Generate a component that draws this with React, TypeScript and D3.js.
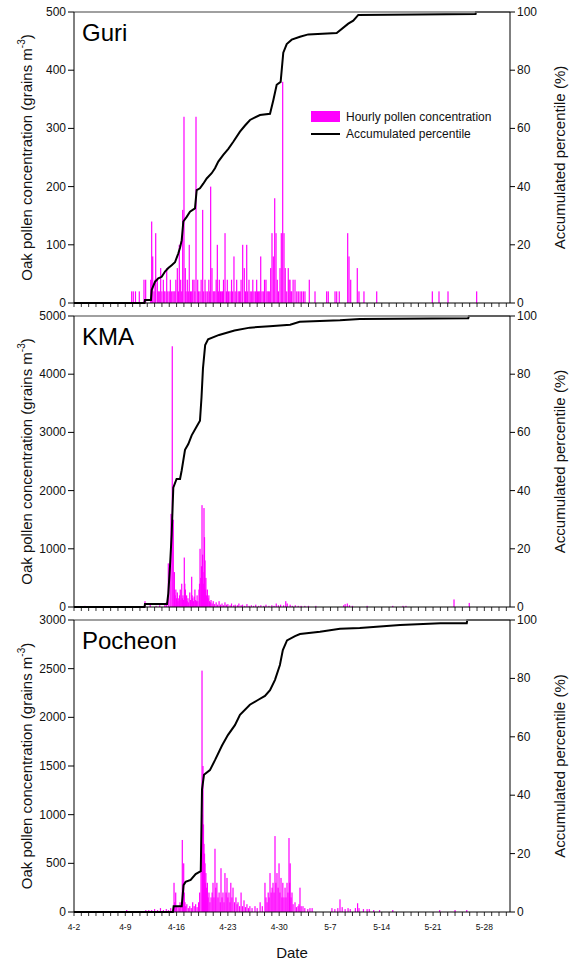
import React from 'react';
import * as d3 from 'd3';

// ---------- DATA (day offset from Apr 2 00:00, value) ----------
const xTickDays = [0, 7, 14, 21, 28, 35, 42, 49, 56];
const xTickLabels = ['4-2', '4-9', '4-16', '4-23', '4-30', '5-7', '5-14', '5-21', '5-28'];
const xDomainEnd = 59.5;

const guriTicks = [0, 100, 200, 300, 400, 500];
const kmaTicks = [0, 1000, 2000, 3000, 4000, 5000];
const pocheonTicks = [0, 500, 1000, 1500, 2000, 2500, 3000];
const pctTicks = [0, 20, 40, 60, 80, 100];

const guriBars: [number, number][] = [
  [7.87,20],[8.09,20],[8.39,20],[8.91,20],[9.55,40],[9.78,40],[10.47,40],[10.60,140],[10.74,80],[10.92,20],[11.05,40],[11.15,120],[11.37,40],[11.50,20],[11.64,20],[11.83,60],[12.0,20],[12.19,40],[12.3,20],[12.42,20],[12.65,60],[12.8,20],[13.00,20],[13.15,40],[13.33,20],[13.5,20],[13.65,20],[13.78,20],[13.9,40],[14.10,60],[14.25,20],[14.37,100],[14.56,40],[14.7,20],[14.83,160],[15.01,320],[15.19,60],[15.3,20],[15.46,40],[15.6,20],[15.73,100],[15.9,20],[16.06,20],[16.2,40],[16.38,40],[16.5,20],[16.65,320],[16.88,40],[17.0,20],[17.19,20],[17.35,40],[17.56,160],[17.7,20],[17.88,40],[18.0,20],[18.19,20],[18.4,40],[18.52,20],[18.65,200],[18.83,60],[19.0,20],[19.12,20],[19.24,20],[19.4,40],[19.56,100],[19.7,20],[19.83,40],[20.0,20],[20.16,20],[20.28,20],[20.4,40],[20.61,120],[20.8,20],[20.92,40],[21.1,20],[21.29,20],[21.5,40],[21.65,20],[21.83,80],[22.0,20],[22.20,40],[22.4,20],[22.56,20],[22.68,20],[22.8,40],[23.02,100],[23.24,60],[23.4,20],[23.57,100],[23.7,20],[23.88,40],[24.05,20],[24.25,20],[24.4,40],[24.56,20],[24.75,20],[24.93,40],[25.05,20],[25.2,20],[25.35,20],[25.48,80],[25.65,20],[25.83,20],[26.0,40],[26.20,40],[26.35,20],[26.51,20],[26.65,20],[26.84,60],[27.02,120],[27.20,80],[27.39,180],[27.57,120],[27.74,40],[27.9,20],[28.11,60],[28.29,120],[28.48,380],[28.66,120],[28.83,60],[29.03,20],[29.24,60],[29.35,40],[29.48,40],[29.6,20],[29.71,20],[29.9,40],[30.16,40],[30.4,20],[30.61,20],[30.85,20],[31.07,20],[31.3,20],[31.52,20],[32.11,40],[32.89,20],[34.48,20],[34.70,20],[35.62,20],[35.85,20],[36.20,20],[37.35,120],[37.53,80],[37.76,40],[38.66,60],[38.89,20],[39.57,20],[41.31,20],[48.90,20],[49.81,20],[51.04,20],[54.95,20]
];
const guriCum: [number, number][] = [
  [0,0],[9.62,0],[9.69,1],[10.5,1],[10.6,4.5],[11.05,7.3],[11.5,8.5],[11.97,9],[12.42,10.8],[12.87,12],[13.33,13],[13.78,14],[14.23,17],[14.47,19],[14.7,21.6],[14.92,28],[15.38,29.6],[15.83,31.4],[16.51,32.5],[16.74,38.8],[17.19,39.4],[17.64,41],[18.11,42.8],[18.79,44.6],[19.24,46.3],[19.69,48.6],[20.37,50.9],[21.06,53],[21.74,55.4],[22.65,58.9],[23.34,61],[24.02,62.9],[25.38,64.6],[26.75,65],[27.2,69.7],[27.66,75],[28.2,76],[28.56,86],[29.03,89],[29.71,90.5],[30.84,91.5],[31.97,92.3],[35.85,92.8],[37.43,96],[38.11,97],[38.8,99],[54.8,99.3],[54.86,100],[59.5,100]
];

const kmaBars: [number, number][] = [
  [1.5,20],[9.69,100],[10.4,40],[11.2,20],[11.7,30],[12.4,50],[12.6,80],[12.87,750],[13.1,700],[13.24,1600],[13.41,4480],[13.55,1500],[13.7,600],[13.8,200],[13.9,300],[14.0,150],[14.1,250],[14.2,100],[14.3,150],[14.4,200],[14.5,300],[14.6,120],[14.7,400],[14.8,150],[14.87,200],[14.95,120],[15.05,850],[15.12,400],[15.2,300],[15.28,120],[15.37,200],[15.45,100],[15.55,150],[15.65,80],[15.8,250],[15.9,120],[16.06,520],[16.12,200],[16.2,150],[16.3,100],[16.4,180],[16.5,300],[16.6,120],[16.7,100],[16.8,200],[16.9,100],[17.06,300],[17.13,400],[17.2,1000],[17.3,500],[17.4,700],[17.47,1750],[17.55,900],[17.6,600],[17.68,400],[17.74,1700],[17.81,1200],[17.88,800],[17.95,300],[18.0,500],[18.1,200],[18.2,300],[18.3,150],[18.4,200],[18.5,100],[18.6,80],[18.7,120],[18.85,60],[19.0,100],[19.2,50],[19.4,80],[19.6,40],[19.8,100],[20.0,40],[20.2,60],[20.4,30],[20.6,80],[20.8,40],[21.0,50],[21.3,30],[21.5,60],[21.8,30],[22.0,40],[22.3,30],[22.5,60],[22.8,30],[23.0,40],[23.3,20],[23.6,50],[23.9,20],[24.2,30],[24.5,20],[24.8,40],[25.2,20],[25.5,30],[25.9,20],[26.2,40],[26.6,20],[27.0,30],[27.3,20],[27.6,60],[27.9,30],[28.2,40],[28.6,30],[28.9,100],[29.1,60],[29.5,40],[29.8,20],[30.2,30],[30.6,20],[31.0,20],[31.5,20],[32.0,20],[33.0,20],[36.8,30],[37.0,50],[37.3,60],[37.6,30],[38.0,20],[40.0,20],[43.5,20],[44.9,20],[45.3,20],[51.86,130],[53.94,70]
];
const kmaCum: [number, number][] = [
  [0,0],[9.62,0],[9.69,1],[12.7,1],[12.87,4.7],[13.1,14],[13.33,25],[13.55,41],[14.0,44],[14.47,44],[14.7,47],[15.15,54],[15.6,56],[16.06,59],[16.74,62],[17.19,64],[17.4,72],[17.6,82],[17.9,90],[18.3,92],[19.8,93.5],[21.9,95],[24.0,96],[26.7,96.5],[29.5,97],[30.8,98],[36.3,98.5],[39.0,99],[53.8,99.2],[53.9,100],[59.5,100]
];

const pocheonBars: [number, number][] = [
  [7.19,20],[9.8,20],[10.2,20],[10.6,20],[11.0,30],[11.4,20],[11.8,40],[12.2,20],[12.6,30],[12.9,20],[13.2,40],[13.65,300],[13.75,100],[13.88,200],[14.0,50],[14.2,60],[14.35,40],[14.47,100],[14.6,60],[14.78,740],[14.87,300],[14.97,500],[15.05,200],[15.15,100],[15.25,60],[15.4,80],[15.6,40],[15.8,60],[16.0,40],[16.2,100],[16.4,60],[16.6,80],[16.8,50],[17.0,100],[17.15,200],[17.33,600],[17.47,2480],[17.53,1000],[17.6,1500],[17.67,900],[17.74,700],[17.81,600],[17.88,500],[17.94,300],[18.0,400],[18.1,250],[18.2,300],[18.3,150],[18.42,200],[18.55,100],[18.7,150],[18.85,200],[18.97,300],[19.1,150],[19.24,650],[19.35,250],[19.5,300],[19.65,150],[19.8,200],[19.95,100],[20.06,450],[20.2,150],[20.33,200],[20.47,100],[20.6,400],[20.75,200],[20.88,350],[21.0,150],[21.15,200],[21.28,100],[21.4,300],[21.55,150],[21.7,250],[21.9,100],[22.1,150],[22.25,80],[22.38,100],[22.6,60],[22.8,200],[23.0,60],[23.2,120],[23.4,50],[23.6,80],[23.8,40],[24.0,60],[24.3,40],[24.7,60],[25.0,40],[25.4,100],[25.7,60],[26.06,300],[26.2,150],[26.35,100],[26.5,200],[26.62,150],[26.75,400],[26.9,200],[27.03,250],[27.16,300],[27.3,200],[27.43,780],[27.55,300],[27.7,400],[27.85,250],[27.98,500],[28.1,200],[28.25,350],[28.38,150],[28.5,300],[28.65,150],[28.8,250],[28.93,150],[29.07,300],[29.2,200],[29.34,760],[29.42,300],[29.5,500],[29.62,150],[29.75,200],[29.9,80],[30.16,100],[30.35,50],[30.57,60],[30.7,80],[30.84,250],[31.0,60],[31.25,60],[31.5,40],[31.9,30],[32.2,40],[32.5,40],[35.2,40],[35.6,30],[36.0,40],[36.3,130],[36.6,50],[37.0,30],[37.4,40],[37.7,30],[38.4,40],[38.7,90],[38.9,40],[39.5,30],[40.0,30],[40.3,30],[40.9,20],[41.7,20],[43.5,20],[49.9,20],[52.0,20],[53.6,20]
];
const pocheonCum: [number, number][] = [
  [0,0],[13.5,0],[13.6,2],[14.7,2],[14.95,9.2],[15.23,10.3],[15.92,11],[16.6,13],[17.3,14],[17.47,42],[17.74,47],[18.55,48.6],[19.24,52],[20.2,57],[21.0,60.6],[21.96,64],[22.65,67.5],[24.0,71],[25.1,72.6],[26.06,74],[26.75,76],[27.43,79.5],[28.1,84.6],[28.5,89.7],[29.07,93],[30.16,94.5],[30.84,95.2],[33.57,96],[36.3,97],[39.0,97.3],[44.5,98.3],[50.0,98.9],[53.6,98.9],[53.67,100],[59.5,100]
];

// ---------- LAYOUT ----------
const W = 569, H = 964;
const LEFT = 74, RIGHT = 510;
const panels = [
  { name: 'Guri', top: 12, bottom: 303, max: 500, ticks: guriTicks, bars: guriBars, cum: guriCum, legend: true },
  { name: 'KMA', top: 316, bottom: 607, max: 5000, ticks: kmaTicks, bars: kmaBars, cum: kmaCum, legend: false },
  { name: 'Pocheon', top: 620, bottom: 912, max: 3000, ticks: pocheonTicks, bars: pocheonBars, cum: pocheonCum, legend: false },
];
const FONT = "'Liberation Sans', Arial, sans-serif";
const MAGENTA = '#FF00FF';

const x = d3.scaleLinear().domain([0, xDomainEnd]).range([LEFT, RIGHT]);
const dayTicks = d3.range(0, Math.floor(xDomainEnd) + 1);

function Panel({ p, last }: { p: typeof panels[number]; last: boolean }) {
  const y = d3.scaleLinear().domain([0, p.max]).range([p.bottom, p.top]);
  const yp = d3.scaleLinear().domain([0, 100]).range([p.bottom, p.top]);
  const line = d3.line<[number, number]>().x(d => x(d[0])).y(d => yp(d[1]));
  const mid = (p.top + p.bottom) / 2;
  return (
    <g>
      {p.bars.map((b, i) => (
        <rect key={i} x={x(b[0]) - 0.6} width={1.2} y={y(b[1])} height={y(0) - y(b[1])} fill={MAGENTA} />
      ))}
      <path d={line(p.cum) || ''} fill="none" stroke="#000" strokeWidth={2} />
      {/* frame */}
      <line x1={LEFT} x2={RIGHT} y1={p.top} y2={p.top} stroke="#808080" strokeWidth={1.5} />
      <line x1={LEFT} x2={RIGHT} y1={p.bottom} y2={p.bottom} stroke="#000" strokeWidth={1} />
      <line x1={LEFT} x2={LEFT} y1={p.top} y2={p.bottom} stroke="#000" strokeWidth={1} />
      <line x1={RIGHT} x2={RIGHT} y1={p.top} y2={p.bottom} stroke="#000" strokeWidth={1} />
      {/* left axis */}
      {p.ticks.map(t => (
        <g key={t}>
          <line x1={LEFT - 6} x2={LEFT} y1={y(t)} y2={y(t)} stroke="#000" />
          <text x={LEFT - 8} y={y(t) + 4} textAnchor="end" fontSize={12} fontFamily={FONT} fill="#111">{t}</text>
        </g>
      ))}
      {/* right axis */}
      {pctTicks.map(t => (
        <g key={t}>
          <line x1={RIGHT} x2={RIGHT + 5} y1={yp(t)} y2={yp(t)} stroke="#000" />
          <text x={RIGHT + 7} y={yp(t) + 4} textAnchor="start" fontSize={12} fontFamily={FONT} fill="#111">{t}</text>
        </g>
      ))}
      {/* x ticks */}
      {dayTicks.map(d => (
        <line key={d} x1={x(d)} x2={x(d)} y1={p.bottom} y2={p.bottom + 4} stroke="#000" strokeWidth={0.8} />
      ))}
      {last && xTickDays.map((d, i) => (
        <text key={d} x={x(d)} y={p.bottom + 18} textAnchor="middle" fontSize={8.5} fontFamily={FONT} fill="#111">{xTickLabels[i]}</text>
      ))}
      <text x={82} y={p.top + 29} fontSize={24} fontFamily={FONT} fill="#000">{p.name}</text>
      <text transform={`translate(32,${mid}) rotate(-90)`} textAnchor="middle" fontSize={15} fontFamily={FONT} fill="#111">
        Oak pollen concentration (grains m<tspan dy={-7} fontSize={10}>-3</tspan><tspan dy={7}>)</tspan>
      </text>
      <text transform={`translate(565,${mid}) rotate(-90)`} textAnchor="middle" fontSize={15} fontFamily={FONT} fill="#111">
        Accumulated percentile (%)
      </text>
      {p.legend && (
        <g>
          <rect x={311} y={111} width={29} height={11} fill={MAGENTA} />
          <text x={346} y={121} fontSize={12} fontFamily={FONT} fill="#111">Hourly pollen concentration</text>
          <line x1={311} x2={340} y1={134} y2={134} stroke="#000" strokeWidth={2} />
          <text x={346} y={138} fontSize={12} fontFamily={FONT} fill="#111">Accumulated percentile</text>
        </g>
      )}
    </g>
  );
}

export default function App() {
  return (
    <svg width={W} height={H} style={{ display: 'block', position: 'absolute', left: 0, top: 0, background: '#fff' }}>
      <rect width={W} height={H} fill="#fff" />
      {panels.map((p, i) => <Panel key={p.name} p={p} last={i === panels.length - 1} />)}
      <text x={292} y={958} textAnchor="middle" fontSize={15} fontFamily={FONT} fill="#111">Date</text>
    </svg>
  );
}
